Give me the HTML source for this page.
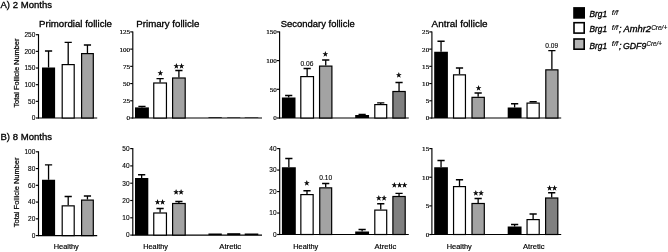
<!DOCTYPE html>
<html><head><meta charset="utf-8"><title>Follicle counts</title>
<style>
html,body{margin:0;padding:0;background:#fff;}
body{width:668px;height:252px;overflow:hidden;}
svg{display:block;}
</style></head><body>
<svg width="668" height="252" viewBox="0 0 668 252">
<rect width="668" height="252" fill="#fff"/>
<text x="0.5" y="7.8" font-size="9.3" text-anchor="start" font-family='"Liberation Sans", sans-serif' font-weight="normal" font-style="normal" textLength="51.5" lengthAdjust="spacingAndGlyphs" stroke="#000" stroke-width="0.3">A) 2 Months</text>
<text x="0.5" y="139.55" font-size="9.3" text-anchor="start" font-family='"Liberation Sans", sans-serif' font-weight="normal" font-style="normal" textLength="51.5" lengthAdjust="spacingAndGlyphs" stroke="#000" stroke-width="0.3">B) 8 Months</text>
<text x="39" y="27.1" font-size="9.0" text-anchor="start" font-family='"Liberation Sans", sans-serif' font-weight="normal" font-style="normal" textLength="73" lengthAdjust="spacingAndGlyphs" stroke="#000" stroke-width="0.3">Primordial follicle</text>
<text x="136.3" y="26.9" font-size="9.0" text-anchor="start" font-family='"Liberation Sans", sans-serif' font-weight="normal" font-style="normal" textLength="63" lengthAdjust="spacingAndGlyphs" stroke="#000" stroke-width="0.3">Primary follicle</text>
<text x="280.8" y="27.1" font-size="9.0" text-anchor="start" font-family='"Liberation Sans", sans-serif' font-weight="normal" font-style="normal" textLength="74" lengthAdjust="spacingAndGlyphs" stroke="#000" stroke-width="0.3">Secondary follicle</text>
<text x="431.6" y="27.1" font-size="9.0" text-anchor="start" font-family='"Liberation Sans", sans-serif' font-weight="normal" font-style="normal" textLength="56" lengthAdjust="spacingAndGlyphs" stroke="#000" stroke-width="0.3">Antral follicle</text>
<text transform="translate(19.3 73.1) rotate(-90)" font-size="6.8" text-anchor="middle" font-family='"Liberation Sans", sans-serif' stroke="#000" stroke-width="0.22" textLength="69" lengthAdjust="spacingAndGlyphs">Total Follicle Number</text>
<text transform="translate(19.3 192.4) rotate(-90)" font-size="6.8" text-anchor="middle" font-family='"Liberation Sans", sans-serif' stroke="#000" stroke-width="0.22" textLength="69.7" lengthAdjust="spacingAndGlyphs">Total Follicle Number</text>
<path d="M38.5 34.2 V118.5" stroke="#000" stroke-width="1.15" fill="none"/>
<path d="M38.0 118.0 H97.2" stroke="#000" stroke-width="1.15" fill="none"/>
<path d="M35.9 118.00 H38.5" stroke="#000" stroke-width="1.15" fill="none"/>
<text x="35.3" y="120.34" font-size="6.5" text-anchor="end" font-family='"Liberation Sans", sans-serif' font-weight="normal" font-style="normal" stroke="#000" stroke-width="0.12">0</text>
<path d="M35.9 101.34 H38.5" stroke="#000" stroke-width="1.15" fill="none"/>
<text x="35.3" y="103.68" font-size="6.5" text-anchor="end" font-family='"Liberation Sans", sans-serif' font-weight="normal" font-style="normal" stroke="#000" stroke-width="0.12">50</text>
<path d="M35.9 84.68 H38.5" stroke="#000" stroke-width="1.15" fill="none"/>
<text x="35.3" y="87.02" font-size="6.5" text-anchor="end" font-family='"Liberation Sans", sans-serif' font-weight="normal" font-style="normal" stroke="#000" stroke-width="0.12">100</text>
<path d="M35.9 68.02 H38.5" stroke="#000" stroke-width="1.15" fill="none"/>
<text x="35.3" y="70.36" font-size="6.5" text-anchor="end" font-family='"Liberation Sans", sans-serif' font-weight="normal" font-style="normal" stroke="#000" stroke-width="0.12">150</text>
<path d="M35.9 51.36 H38.5" stroke="#000" stroke-width="1.15" fill="none"/>
<text x="35.3" y="53.7" font-size="6.5" text-anchor="end" font-family='"Liberation Sans", sans-serif' font-weight="normal" font-style="normal" stroke="#000" stroke-width="0.12">200</text>
<path d="M35.9 34.70 H38.5" stroke="#000" stroke-width="1.15" fill="none"/>
<text x="35.3" y="37.04" font-size="6.5" text-anchor="end" font-family='"Liberation Sans", sans-serif' font-weight="normal" font-style="normal" stroke="#000" stroke-width="0.12">250</text>
<path d="M48.55 67.5 V51 M44.95 51 H52.15" stroke="#000" stroke-width="1.3" fill="none"/>
<rect x="42.00" y="67.5" width="13.10" height="50.50" fill="#000"/>
<path d="M68.20 64 V42.3 M64.60 42.3 H71.80" stroke="#000" stroke-width="1.3" fill="none"/>
<rect x="62.20" y="64.60" width="12.00" height="53.40" fill="#fff" stroke="#000" stroke-width="1.2"/>
<path d="M87.45 53 V45 M83.85 45 H91.05" stroke="#000" stroke-width="1.3" fill="none"/>
<rect x="81.60" y="53.60" width="11.70" height="64.40" fill="#a3a3a3" stroke="#000" stroke-width="1.2"/>
<path d="M132.8 31.4 V118.5" stroke="#000" stroke-width="1.15" fill="none"/>
<path d="M132.3 118.0 H262" stroke="#000" stroke-width="1.15" fill="none"/>
<path d="M130.20000000000002 118.00 H132.8" stroke="#000" stroke-width="1.15" fill="none"/>
<text x="130.1" y="120.4" font-size="7.1" text-anchor="end" font-family='"Liberation Serif", serif' font-weight="normal" font-style="normal" stroke="#000" stroke-width="0.2">0</text>
<path d="M130.20000000000002 100.78 H132.8" stroke="#000" stroke-width="1.15" fill="none"/>
<text x="130.1" y="103.18" font-size="7.1" text-anchor="end" font-family='"Liberation Serif", serif' font-weight="normal" font-style="normal" stroke="#000" stroke-width="0.2">25</text>
<path d="M130.20000000000002 83.56 H132.8" stroke="#000" stroke-width="1.15" fill="none"/>
<text x="130.1" y="85.96" font-size="7.1" text-anchor="end" font-family='"Liberation Serif", serif' font-weight="normal" font-style="normal" stroke="#000" stroke-width="0.2">50</text>
<path d="M130.20000000000002 66.34 H132.8" stroke="#000" stroke-width="1.15" fill="none"/>
<text x="130.1" y="68.74" font-size="7.1" text-anchor="end" font-family='"Liberation Serif", serif' font-weight="normal" font-style="normal" stroke="#000" stroke-width="0.2">75</text>
<path d="M130.20000000000002 49.12 H132.8" stroke="#000" stroke-width="1.15" fill="none"/>
<text x="130.1" y="51.52" font-size="7.1" text-anchor="end" font-family='"Liberation Serif", serif' font-weight="normal" font-style="normal" stroke="#000" stroke-width="0.2">100</text>
<path d="M130.20000000000002 31.90 H132.8" stroke="#000" stroke-width="1.15" fill="none"/>
<text x="130.1" y="34.3" font-size="7.1" text-anchor="end" font-family='"Liberation Serif", serif' font-weight="normal" font-style="normal" stroke="#000" stroke-width="0.2">125</text>
<path d="M141.95 107.4 V106.4 M138.35 106.4 H145.55" stroke="#000" stroke-width="1.3" fill="none"/>
<rect x="135.00" y="107.4" width="13.90" height="10.60" fill="#000"/>
<path d="M160.10 82.4 V78.6 M156.50 78.6 H163.70" stroke="#000" stroke-width="1.3" fill="none"/>
<rect x="153.75" y="83.00" width="12.70" height="35.00" fill="#fff" stroke="#000" stroke-width="1.2"/>
<path d="M178.90 77.4 V70.5 M175.30 70.5 H182.50" stroke="#000" stroke-width="1.3" fill="none"/>
<rect x="172.60" y="78.00" width="12.60" height="40.00" fill="#a3a3a3" stroke="#000" stroke-width="1.2"/>
<rect x="208.45" y="117.3" width="13.35" height="0.70" fill="#000"/>
<rect x="227.20" y="117.5" width="13.10" height="0.50" fill="#000"/>
<rect x="244.70" y="117.5" width="13.60" height="0.50" fill="#000"/>
<path d="M279.6 31.4 V118.5" stroke="#000" stroke-width="1.15" fill="none"/>
<path d="M279.1 118.0 H408.8" stroke="#000" stroke-width="1.15" fill="none"/>
<path d="M277.0 118.00 H279.6" stroke="#000" stroke-width="1.15" fill="none"/>
<text x="276.9" y="120.4" font-size="7.1" text-anchor="end" font-family='"Liberation Serif", serif' font-weight="normal" font-style="normal" stroke="#000" stroke-width="0.2">0</text>
<path d="M277.0 89.30 H279.6" stroke="#000" stroke-width="1.15" fill="none"/>
<text x="276.9" y="91.7" font-size="7.1" text-anchor="end" font-family='"Liberation Serif", serif' font-weight="normal" font-style="normal" stroke="#000" stroke-width="0.2">50</text>
<path d="M277.0 60.60 H279.6" stroke="#000" stroke-width="1.15" fill="none"/>
<text x="276.9" y="63.0" font-size="7.1" text-anchor="end" font-family='"Liberation Serif", serif' font-weight="normal" font-style="normal" stroke="#000" stroke-width="0.2">100</text>
<path d="M277.0 31.90 H279.6" stroke="#000" stroke-width="1.15" fill="none"/>
<text x="276.9" y="34.3" font-size="7.1" text-anchor="end" font-family='"Liberation Serif", serif' font-weight="normal" font-style="normal" stroke="#000" stroke-width="0.2">150</text>
<path d="M288.70 97.5 V95.5 M285.10 95.5 H292.30" stroke="#000" stroke-width="1.3" fill="none"/>
<rect x="281.90" y="97.5" width="13.60" height="20.50" fill="#000"/>
<path d="M307.15 76 V68.5 M303.55 68.5 H310.75" stroke="#000" stroke-width="1.3" fill="none"/>
<rect x="300.80" y="76.60" width="12.70" height="41.40" fill="#fff" stroke="#000" stroke-width="1.2"/>
<path d="M325.73 65.5 V60 M322.12 60 H329.33" stroke="#000" stroke-width="1.3" fill="none"/>
<rect x="319.55" y="66.10" width="12.35" height="51.90" fill="#a3a3a3" stroke="#000" stroke-width="1.2"/>
<path d="M362.12 115 V114.5 M358.52 114.5 H365.73" stroke="#000" stroke-width="1.3" fill="none"/>
<rect x="355.20" y="115" width="13.85" height="3.00" fill="#000"/>
<path d="M380.75 104.0 V102.8 M377.15 102.8 H384.35" stroke="#000" stroke-width="1.3" fill="none"/>
<rect x="374.80" y="104.60" width="11.90" height="13.40" fill="#fff" stroke="#000" stroke-width="1.2"/>
<path d="M399.05 90.9 V82.5 M395.45 82.5 H402.65" stroke="#000" stroke-width="1.3" fill="none"/>
<rect x="392.90" y="91.50" width="12.30" height="26.50" fill="#808080" stroke="#000" stroke-width="1.2"/>
<path d="M431.9 31.4 V118.5" stroke="#000" stroke-width="1.15" fill="none"/>
<path d="M431.4 118.0 H561.2" stroke="#000" stroke-width="1.15" fill="none"/>
<path d="M429.29999999999995 118.00 H431.9" stroke="#000" stroke-width="1.15" fill="none"/>
<text x="429.2" y="120.4" font-size="7.1" text-anchor="end" font-family='"Liberation Serif", serif' font-weight="normal" font-style="normal" stroke="#000" stroke-width="0.2">0</text>
<path d="M429.29999999999995 100.78 H431.9" stroke="#000" stroke-width="1.15" fill="none"/>
<text x="429.2" y="103.18" font-size="7.1" text-anchor="end" font-family='"Liberation Serif", serif' font-weight="normal" font-style="normal" stroke="#000" stroke-width="0.2">5</text>
<path d="M429.29999999999995 83.56 H431.9" stroke="#000" stroke-width="1.15" fill="none"/>
<text x="429.2" y="85.96" font-size="7.1" text-anchor="end" font-family='"Liberation Serif", serif' font-weight="normal" font-style="normal" stroke="#000" stroke-width="0.2">10</text>
<path d="M429.29999999999995 66.34 H431.9" stroke="#000" stroke-width="1.15" fill="none"/>
<text x="429.2" y="68.74" font-size="7.1" text-anchor="end" font-family='"Liberation Serif", serif' font-weight="normal" font-style="normal" stroke="#000" stroke-width="0.2">15</text>
<path d="M429.29999999999995 49.12 H431.9" stroke="#000" stroke-width="1.15" fill="none"/>
<text x="429.2" y="51.52" font-size="7.1" text-anchor="end" font-family='"Liberation Serif", serif' font-weight="normal" font-style="normal" stroke="#000" stroke-width="0.2">20</text>
<path d="M429.29999999999995 31.90 H431.9" stroke="#000" stroke-width="1.15" fill="none"/>
<text x="429.2" y="34.3" font-size="7.1" text-anchor="end" font-family='"Liberation Serif", serif' font-weight="normal" font-style="normal" stroke="#000" stroke-width="0.2">25</text>
<path d="M441.05 51.75 V41.25 M437.45 41.25 H444.65" stroke="#000" stroke-width="1.3" fill="none"/>
<rect x="434.20" y="51.75" width="13.70" height="66.25" fill="#000"/>
<path d="M459.50 74.25 V68 M455.90 68 H463.10" stroke="#000" stroke-width="1.3" fill="none"/>
<rect x="453.55" y="74.85" width="11.90" height="43.15" fill="#fff" stroke="#000" stroke-width="1.2"/>
<path d="M478.15 96.75 V93 M474.55 93 H481.75" stroke="#000" stroke-width="1.3" fill="none"/>
<rect x="472.00" y="97.35" width="12.30" height="20.65" fill="#a3a3a3" stroke="#000" stroke-width="1.2"/>
<path d="M514.62 107.5 V103.75 M511.02 103.75 H518.23" stroke="#000" stroke-width="1.3" fill="none"/>
<rect x="507.70" y="107.5" width="13.85" height="10.50" fill="#000"/>
<path d="M533.12 102.5 V101.75 M529.52 101.75 H536.73" stroke="#000" stroke-width="1.3" fill="none"/>
<rect x="527.05" y="103.10" width="12.15" height="14.90" fill="#fff" stroke="#000" stroke-width="1.2"/>
<path d="M551.88 69.25 V50.6 M548.27 50.6 H555.48" stroke="#000" stroke-width="1.3" fill="none"/>
<rect x="545.80" y="69.85" width="12.15" height="48.15" fill="#a3a3a3" stroke="#000" stroke-width="1.2"/>
<path d="M38.5 151.3 V236.1" stroke="#000" stroke-width="1.15" fill="none"/>
<path d="M38.0 235.6 H97.2" stroke="#000" stroke-width="1.15" fill="none"/>
<path d="M35.9 235.60 H38.5" stroke="#000" stroke-width="1.15" fill="none"/>
<text x="35.3" y="237.94" font-size="6.5" text-anchor="end" font-family='"Liberation Sans", sans-serif' font-weight="normal" font-style="normal" stroke="#000" stroke-width="0.12">0</text>
<path d="M35.9 218.84 H38.5" stroke="#000" stroke-width="1.15" fill="none"/>
<text x="35.3" y="221.18" font-size="6.5" text-anchor="end" font-family='"Liberation Sans", sans-serif' font-weight="normal" font-style="normal" stroke="#000" stroke-width="0.12">20</text>
<path d="M35.9 202.08 H38.5" stroke="#000" stroke-width="1.15" fill="none"/>
<text x="35.3" y="204.42" font-size="6.5" text-anchor="end" font-family='"Liberation Sans", sans-serif' font-weight="normal" font-style="normal" stroke="#000" stroke-width="0.12">40</text>
<path d="M35.9 185.32 H38.5" stroke="#000" stroke-width="1.15" fill="none"/>
<text x="35.3" y="187.66" font-size="6.5" text-anchor="end" font-family='"Liberation Sans", sans-serif' font-weight="normal" font-style="normal" stroke="#000" stroke-width="0.12">60</text>
<path d="M35.9 168.56 H38.5" stroke="#000" stroke-width="1.15" fill="none"/>
<text x="35.3" y="170.9" font-size="6.5" text-anchor="end" font-family='"Liberation Sans", sans-serif' font-weight="normal" font-style="normal" stroke="#000" stroke-width="0.12">80</text>
<path d="M35.9 151.80 H38.5" stroke="#000" stroke-width="1.15" fill="none"/>
<text x="35.3" y="154.14" font-size="6.5" text-anchor="end" font-family='"Liberation Sans", sans-serif' font-weight="normal" font-style="normal" stroke="#000" stroke-width="0.12">100</text>
<path d="M48.55 179.75 V164.8 M44.95 164.8 H52.15" stroke="#000" stroke-width="1.3" fill="none"/>
<rect x="42.00" y="179.75" width="13.10" height="55.85" fill="#000"/>
<path d="M68.20 205.25 V196.5 M64.60 196.5 H71.80" stroke="#000" stroke-width="1.3" fill="none"/>
<rect x="62.20" y="205.85" width="12.00" height="29.75" fill="#fff" stroke="#000" stroke-width="1.2"/>
<path d="M87.45 199.5 V196 M83.85 196 H91.05" stroke="#000" stroke-width="1.3" fill="none"/>
<rect x="81.60" y="200.10" width="11.70" height="35.50" fill="#a3a3a3" stroke="#000" stroke-width="1.2"/>
<path d="M132.8 148.1 V235.6" stroke="#000" stroke-width="1.15" fill="none"/>
<path d="M132.3 235.1 H262" stroke="#000" stroke-width="1.15" fill="none"/>
<path d="M130.20000000000002 235.10 H132.8" stroke="#000" stroke-width="1.15" fill="none"/>
<text x="129.6" y="237.44" font-size="6.5" text-anchor="end" font-family='"Liberation Sans", sans-serif' font-weight="normal" font-style="normal" stroke="#000" stroke-width="0.12">0</text>
<path d="M130.20000000000002 217.80 H132.8" stroke="#000" stroke-width="1.15" fill="none"/>
<text x="129.6" y="220.14" font-size="6.5" text-anchor="end" font-family='"Liberation Sans", sans-serif' font-weight="normal" font-style="normal" stroke="#000" stroke-width="0.12">10</text>
<path d="M130.20000000000002 200.50 H132.8" stroke="#000" stroke-width="1.15" fill="none"/>
<text x="129.6" y="202.84" font-size="6.5" text-anchor="end" font-family='"Liberation Sans", sans-serif' font-weight="normal" font-style="normal" stroke="#000" stroke-width="0.12">20</text>
<path d="M130.20000000000002 183.20 H132.8" stroke="#000" stroke-width="1.15" fill="none"/>
<text x="129.6" y="185.54" font-size="6.5" text-anchor="end" font-family='"Liberation Sans", sans-serif' font-weight="normal" font-style="normal" stroke="#000" stroke-width="0.12">30</text>
<path d="M130.20000000000002 165.90 H132.8" stroke="#000" stroke-width="1.15" fill="none"/>
<text x="129.6" y="168.24" font-size="6.5" text-anchor="end" font-family='"Liberation Sans", sans-serif' font-weight="normal" font-style="normal" stroke="#000" stroke-width="0.12">40</text>
<path d="M130.20000000000002 148.60 H132.8" stroke="#000" stroke-width="1.15" fill="none"/>
<text x="129.6" y="150.94" font-size="6.5" text-anchor="end" font-family='"Liberation Sans", sans-serif' font-weight="normal" font-style="normal" stroke="#000" stroke-width="0.12">50</text>
<path d="M141.65 178 V174.75 M138.05 174.75 H145.25" stroke="#000" stroke-width="1.3" fill="none"/>
<rect x="135.00" y="178" width="13.30" height="57.10" fill="#000"/>
<path d="M160.10 212.4 V208.5 M156.50 208.5 H163.70" stroke="#000" stroke-width="1.3" fill="none"/>
<rect x="153.75" y="213.00" width="12.70" height="22.10" fill="#fff" stroke="#000" stroke-width="1.2"/>
<path d="M178.90 202.9 V201.5 M175.30 201.5 H182.50" stroke="#000" stroke-width="1.3" fill="none"/>
<rect x="172.60" y="203.50" width="12.60" height="31.60" fill="#a3a3a3" stroke="#000" stroke-width="1.2"/>
<rect x="208.45" y="233.5" width="13.35" height="1.60" fill="#000"/>
<rect x="227.20" y="233.2" width="13.10" height="1.90" fill="#000"/>
<rect x="244.70" y="233.5" width="13.60" height="1.60" fill="#000"/>
<path d="M279.7 148.1 V235.0" stroke="#000" stroke-width="1.15" fill="none"/>
<path d="M279.2 234.5 H408.8" stroke="#000" stroke-width="1.15" fill="none"/>
<path d="M277.09999999999997 234.50 H279.7" stroke="#000" stroke-width="1.15" fill="none"/>
<text x="276.5" y="236.84" font-size="6.5" text-anchor="end" font-family='"Liberation Sans", sans-serif' font-weight="normal" font-style="normal" stroke="#000" stroke-width="0.12">0</text>
<path d="M277.09999999999997 213.03 H279.7" stroke="#000" stroke-width="1.15" fill="none"/>
<text x="276.5" y="215.37" font-size="6.5" text-anchor="end" font-family='"Liberation Sans", sans-serif' font-weight="normal" font-style="normal" stroke="#000" stroke-width="0.12">10</text>
<path d="M277.09999999999997 191.55 H279.7" stroke="#000" stroke-width="1.15" fill="none"/>
<text x="276.5" y="193.89" font-size="6.5" text-anchor="end" font-family='"Liberation Sans", sans-serif' font-weight="normal" font-style="normal" stroke="#000" stroke-width="0.12">20</text>
<path d="M277.09999999999997 170.07 H279.7" stroke="#000" stroke-width="1.15" fill="none"/>
<text x="276.5" y="172.41" font-size="6.5" text-anchor="end" font-family='"Liberation Sans", sans-serif' font-weight="normal" font-style="normal" stroke="#000" stroke-width="0.12">30</text>
<path d="M277.09999999999997 148.60 H279.7" stroke="#000" stroke-width="1.15" fill="none"/>
<text x="276.5" y="150.94" font-size="6.5" text-anchor="end" font-family='"Liberation Sans", sans-serif' font-weight="normal" font-style="normal" stroke="#000" stroke-width="0.12">40</text>
<path d="M288.85 167.25 V158.5 M285.25 158.5 H292.45" stroke="#000" stroke-width="1.3" fill="none"/>
<rect x="281.90" y="167.25" width="13.90" height="67.25" fill="#000"/>
<path d="M307.00 194 V190.75 M303.40 190.75 H310.60" stroke="#000" stroke-width="1.3" fill="none"/>
<rect x="300.85" y="194.60" width="12.30" height="39.90" fill="#fff" stroke="#000" stroke-width="1.2"/>
<path d="M325.70 187.25 V183.5 M322.10 183.5 H329.30" stroke="#000" stroke-width="1.3" fill="none"/>
<rect x="319.75" y="187.85" width="11.90" height="46.65" fill="#a3a3a3" stroke="#000" stroke-width="1.2"/>
<path d="M362.12 231.5 V229.5 M358.52 229.5 H365.73" stroke="#000" stroke-width="1.3" fill="none"/>
<rect x="355.20" y="231.5" width="13.85" height="3.00" fill="#000"/>
<path d="M380.75 209.5 V203.75 M377.15 203.75 H384.35" stroke="#000" stroke-width="1.3" fill="none"/>
<rect x="374.80" y="210.10" width="11.90" height="24.40" fill="#fff" stroke="#000" stroke-width="1.2"/>
<path d="M399.05 195.9 V193.3 M395.45 193.3 H402.65" stroke="#000" stroke-width="1.3" fill="none"/>
<rect x="392.90" y="196.50" width="12.30" height="38.00" fill="#808080" stroke="#000" stroke-width="1.2"/>
<path d="M431.9 148.1 V235.0" stroke="#000" stroke-width="1.15" fill="none"/>
<path d="M431.4 234.5 H561.2" stroke="#000" stroke-width="1.15" fill="none"/>
<path d="M429.29999999999995 234.50 H431.9" stroke="#000" stroke-width="1.15" fill="none"/>
<text x="429.2" y="236.9" font-size="7.1" text-anchor="end" font-family='"Liberation Serif", serif' font-weight="normal" font-style="normal" stroke="#000" stroke-width="0.2">0</text>
<path d="M429.29999999999995 205.87 H431.9" stroke="#000" stroke-width="1.15" fill="none"/>
<text x="429.2" y="208.27" font-size="7.1" text-anchor="end" font-family='"Liberation Serif", serif' font-weight="normal" font-style="normal" stroke="#000" stroke-width="0.2">5</text>
<path d="M429.29999999999995 177.23 H431.9" stroke="#000" stroke-width="1.15" fill="none"/>
<text x="429.2" y="179.63" font-size="7.1" text-anchor="end" font-family='"Liberation Serif", serif' font-weight="normal" font-style="normal" stroke="#000" stroke-width="0.2">10</text>
<path d="M429.29999999999995 148.60 H431.9" stroke="#000" stroke-width="1.15" fill="none"/>
<text x="429.2" y="151.0" font-size="7.1" text-anchor="end" font-family='"Liberation Serif", serif' font-weight="normal" font-style="normal" stroke="#000" stroke-width="0.2">15</text>
<path d="M441.05 167.25 V160.5 M437.45 160.5 H444.65" stroke="#000" stroke-width="1.3" fill="none"/>
<rect x="434.20" y="167.25" width="13.70" height="67.25" fill="#000"/>
<path d="M459.50 186 V179.75 M455.90 179.75 H463.10" stroke="#000" stroke-width="1.3" fill="none"/>
<rect x="453.55" y="186.60" width="11.90" height="47.90" fill="#fff" stroke="#000" stroke-width="1.2"/>
<path d="M478.15 202.9 V198.5 M474.55 198.5 H481.75" stroke="#000" stroke-width="1.3" fill="none"/>
<rect x="472.00" y="203.50" width="12.30" height="31.00" fill="#a3a3a3" stroke="#000" stroke-width="1.2"/>
<path d="M514.62 226.5 V224.5 M511.02 224.5 H518.23" stroke="#000" stroke-width="1.3" fill="none"/>
<rect x="507.70" y="226.5" width="13.85" height="8.00" fill="#000"/>
<path d="M533.12 219 V214 M529.52 214 H536.73" stroke="#000" stroke-width="1.3" fill="none"/>
<rect x="527.05" y="219.60" width="12.15" height="14.90" fill="#fff" stroke="#000" stroke-width="1.2"/>
<path d="M551.70 197.4 V192.75 M548.10 192.75 H555.30" stroke="#000" stroke-width="1.3" fill="none"/>
<rect x="545.60" y="198.00" width="12.20" height="36.50" fill="#808080" stroke="#000" stroke-width="1.2"/>
<text x="160.3" y="75.07" font-size="5.75" text-anchor="middle" font-family='"Liberation Sans", "DejaVu Sans", sans-serif' font-weight="normal" font-style="normal" stroke="#000" stroke-width="0.45">★</text>
<text x="179" y="68.37" font-size="5.75" text-anchor="middle" font-family='"Liberation Sans", "DejaVu Sans", sans-serif' font-weight="normal" font-style="normal" stroke="#000" stroke-width="0.45">★★</text>
<text x="306.9" y="66.0" font-size="6.3" text-anchor="middle" font-family='"Liberation Sans", sans-serif' font-weight="normal" font-style="normal" textLength="12.9" lengthAdjust="spacingAndGlyphs" stroke="#000" stroke-width="0.1">0.06</text>
<text x="325.4" y="56.27" font-size="5.75" text-anchor="middle" font-family='"Liberation Sans", "DejaVu Sans", sans-serif' font-weight="normal" font-style="normal" stroke="#000" stroke-width="0.45">★</text>
<text x="398.9" y="77.47" font-size="5.75" text-anchor="middle" font-family='"Liberation Sans", "DejaVu Sans", sans-serif' font-weight="normal" font-style="normal" stroke="#000" stroke-width="0.45">★</text>
<text x="478.6" y="90.17" font-size="5.75" text-anchor="middle" font-family='"Liberation Sans", "DejaVu Sans", sans-serif' font-weight="normal" font-style="normal" stroke="#000" stroke-width="0.45">★</text>
<text x="551.8" y="48.0" font-size="6.3" text-anchor="middle" font-family='"Liberation Sans", sans-serif' font-weight="normal" font-style="normal" textLength="12.9" lengthAdjust="spacingAndGlyphs" stroke="#000" stroke-width="0.1">0.09</text>
<text x="160.1" y="204.27" font-size="5.75" text-anchor="middle" font-family='"Liberation Sans", "DejaVu Sans", sans-serif' font-weight="normal" font-style="normal" stroke="#000" stroke-width="0.45">★★</text>
<text x="178.6" y="194.37" font-size="5.75" text-anchor="middle" font-family='"Liberation Sans", "DejaVu Sans", sans-serif' font-weight="normal" font-style="normal" stroke="#000" stroke-width="0.45">★★</text>
<text x="306.75" y="185.17" font-size="5.75" text-anchor="middle" font-family='"Liberation Sans", "DejaVu Sans", sans-serif' font-weight="normal" font-style="normal" stroke="#000" stroke-width="0.45">★</text>
<text x="325.7" y="180.4" font-size="6.3" text-anchor="middle" font-family='"Liberation Sans", sans-serif' font-weight="normal" font-style="normal" textLength="12.9" lengthAdjust="spacingAndGlyphs" stroke="#000" stroke-width="0.1">0.10</text>
<text x="381.4" y="200.27" font-size="5.75" text-anchor="middle" font-family='"Liberation Sans", "DejaVu Sans", sans-serif' font-weight="normal" font-style="normal" stroke="#000" stroke-width="0.45">★★</text>
<text x="399.5" y="187.17" font-size="5.75" text-anchor="middle" font-family='"Liberation Sans", "DejaVu Sans", sans-serif' font-weight="normal" font-style="normal" stroke="#000" stroke-width="0.45">★★★</text>
<text x="478.4" y="194.57" font-size="5.75" text-anchor="middle" font-family='"Liberation Sans", "DejaVu Sans", sans-serif' font-weight="normal" font-style="normal" stroke="#000" stroke-width="0.45">★★</text>
<text x="552.1" y="189.87" font-size="5.75" text-anchor="middle" font-family='"Liberation Sans", "DejaVu Sans", sans-serif' font-weight="normal" font-style="normal" stroke="#000" stroke-width="0.45">★★</text>
<text x="53.75" y="249.0" font-size="7.1" text-anchor="start" font-family='"Liberation Sans", sans-serif' font-weight="normal" font-style="normal" textLength="25.0" lengthAdjust="spacingAndGlyphs" stroke="#000" stroke-width="0.18">Healthy</text>
<text x="143.25" y="249.0" font-size="7.1" text-anchor="start" font-family='"Liberation Sans", sans-serif' font-weight="normal" font-style="normal" textLength="24.75" lengthAdjust="spacingAndGlyphs" stroke="#000" stroke-width="0.18">Healthy</text>
<text x="219.25" y="249.0" font-size="7.1" text-anchor="start" font-family='"Liberation Sans", sans-serif' font-weight="normal" font-style="normal" textLength="22.0" lengthAdjust="spacingAndGlyphs" stroke="#000" stroke-width="0.18">Atretic</text>
<text x="293.3" y="249.0" font-size="7.1" text-anchor="start" font-family='"Liberation Sans", sans-serif' font-weight="normal" font-style="normal" textLength="25.0" lengthAdjust="spacingAndGlyphs" stroke="#000" stroke-width="0.18">Healthy</text>
<text x="374.5" y="249.0" font-size="7.1" text-anchor="start" font-family='"Liberation Sans", sans-serif' font-weight="normal" font-style="normal" textLength="21.75" lengthAdjust="spacingAndGlyphs" stroke="#000" stroke-width="0.18">Atretic</text>
<text x="446.75" y="249.0" font-size="7.1" text-anchor="start" font-family='"Liberation Sans", sans-serif' font-weight="normal" font-style="normal" textLength="25.0" lengthAdjust="spacingAndGlyphs" stroke="#000" stroke-width="0.18">Healthy</text>
<text x="523" y="249.0" font-size="7.1" text-anchor="start" font-family='"Liberation Sans", sans-serif' font-weight="normal" font-style="normal" textLength="21.5" lengthAdjust="spacingAndGlyphs" stroke="#000" stroke-width="0.18">Atretic</text>
<rect x="573.2" y="7.1" width="11.8" height="11.6" fill="#000"/>
<rect x="574" y="22.7" width="10.2" height="10.4" fill="#fff" stroke="#000" stroke-width="1.6"/>
<rect x="574" y="39.0" width="10.2" height="10.200000000000001" fill="#b4b4b4" stroke="#000" stroke-width="1.6"/>
<text x="589.5" y="16.8" font-size="9.0" text-anchor="start" font-family='"Liberation Sans", sans-serif' font-weight="normal" font-style="italic" textLength="17.5" lengthAdjust="spacingAndGlyphs" stroke="#000" stroke-width="0.32">Brg1</text>
<text x="611.8" y="14.5" font-size="6.8" text-anchor="start" font-family='"Liberation Sans", sans-serif' font-weight="normal" font-style="italic" textLength="6.4" lengthAdjust="spacingAndGlyphs" stroke="#000" stroke-width="0.15">f/f</text>
<text x="589.5" y="32.2" font-size="9.0" text-anchor="start" font-family='"Liberation Sans", sans-serif' font-weight="normal" font-style="italic" textLength="17.5" lengthAdjust="spacingAndGlyphs" stroke="#000" stroke-width="0.32">Brg1</text>
<text x="611.8" y="29.9" font-size="6.8" text-anchor="start" font-family='"Liberation Sans", sans-serif' font-weight="normal" font-style="italic" textLength="6.4" lengthAdjust="spacingAndGlyphs" stroke="#000" stroke-width="0.15">f/f</text>
<text x="589.5" y="48.6" font-size="9.0" text-anchor="start" font-family='"Liberation Sans", sans-serif' font-weight="normal" font-style="italic" textLength="17.5" lengthAdjust="spacingAndGlyphs" stroke="#000" stroke-width="0.32">Brg1</text>
<text x="611.8" y="46.3" font-size="6.8" text-anchor="start" font-family='"Liberation Sans", sans-serif' font-weight="normal" font-style="italic" textLength="6.4" lengthAdjust="spacingAndGlyphs" stroke="#000" stroke-width="0.15">f/f</text>
<text x="619.0" y="32.2" font-size="9.0" text-anchor="start" font-family='"Liberation Sans", sans-serif' font-weight="normal" font-style="italic" stroke="#000" stroke-width="0.32">;</text>
<text x="619.0" y="48.6" font-size="9.0" text-anchor="start" font-family='"Liberation Sans", sans-serif' font-weight="normal" font-style="italic" stroke="#000" stroke-width="0.32">;</text>
<text x="623.4" y="32.2" font-size="9.0" text-anchor="start" font-family='"Liberation Sans", sans-serif' font-weight="normal" font-style="italic" textLength="27.6" lengthAdjust="spacingAndGlyphs" stroke="#000" stroke-width="0.32">Amhr2</text>
<text x="651.2" y="29.9" font-size="6.8" text-anchor="start" font-family='"Liberation Sans", sans-serif' font-weight="normal" font-style="italic" textLength="16.0" lengthAdjust="spacingAndGlyphs" stroke="#000" stroke-width="0.15">Cre/+</text>
<text x="623.0" y="48.6" font-size="9.0" text-anchor="start" font-family='"Liberation Sans", sans-serif' font-weight="normal" font-style="italic" textLength="23.3" lengthAdjust="spacingAndGlyphs" stroke="#000" stroke-width="0.32">GDF9</text>
<text x="646.5" y="46.3" font-size="6.8" text-anchor="start" font-family='"Liberation Sans", sans-serif' font-weight="normal" font-style="italic" textLength="15.3" lengthAdjust="spacingAndGlyphs" stroke="#000" stroke-width="0.15">Cre/+</text>
</svg>
</body></html>
